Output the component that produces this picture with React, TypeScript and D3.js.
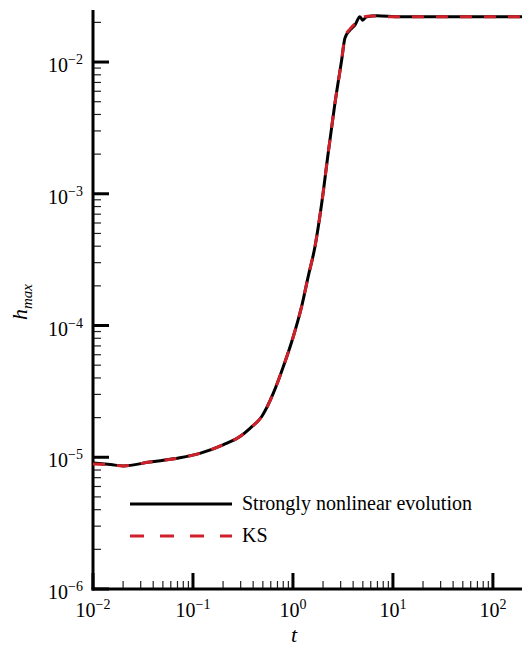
import React, { useEffect, useRef } from 'react'
import * as d3 from 'd3'

// t values and h_max for both runs
const tNonlinear = [0.01, 0.015, 0.02, 0.037, 0.074, 0.117, 0.2, 0.3, 0.372, 0.486, 0.635, 0.8, 1.007, 1.22, 1.42, 1.66, 1.94, 2.25, 2.63, 3.07, 3.31, 3.72, 4.17, 4.68, 4.97, 5.46, 6.87, 11.7, 50, 200]
const hNonlinear = [9.06e-6, 8.8e-6, 8.6e-6, 9.2e-6, 9.9e-6, 1.07e-5, 1.24e-5, 1.45e-5, 1.66e-5, 2.03e-5, 3.05e-5, 4.86e-5, 8.22e-5, 1.39e-4, 2.35e-4, 3.96e-4, 8.47e-4, 2.03e-3, 4.86e-3, 1.035e-2, 1.52e-2, 1.75e-2, 1.91e-2, 2.21e-2, 2.08e-2, 2.21e-2, 2.25e-2, 2.21e-2, 2.21e-2, 2.21e-2]

const tKS = [0.01, 0.015, 0.02, 0.037, 0.074, 0.117, 0.2, 0.3, 0.372, 0.486, 0.635, 0.8, 1.007, 1.22, 1.42, 1.66, 1.94, 2.25, 2.63, 3.07, 3.31, 3.72, 4.17, 4.6, 5.1, 5.6, 6.5, 7.5, 8.5, 11.7, 50, 200]
const hKS = [8.9e-6, 8.75e-6, 8.6e-6, 9.2e-6, 9.9e-6, 1.07e-5, 1.24e-5, 1.45e-5, 1.66e-5, 2.03e-5, 3.05e-5, 4.86e-5, 8.22e-5, 1.39e-4, 2.35e-4, 3.96e-4, 8.47e-4, 2.03e-3, 4.86e-3, 1.035e-2, 1.55e-2, 1.78e-2, 1.95e-2, 2.08e-2, 2.2e-2, 2.23e-2, 2.24e-2, 2.23e-2, 2.21e-2, 2.21e-2, 2.21e-2, 2.21e-2]

const xMajor = [-2, -1, 0, 1, 2]
const yMajor = [-6, -5, -4, -3, -2]
const legendLabels = ['Strongly nonlinear evolution', 'KS']

const FONT = "'Liberation Serif', 'Times New Roman', Times, serif"

export default function App() {
  const ref = useRef(null)

  useEffect(() => {
    const svg = d3.select(ref.current)
    svg.selectAll('*').remove()

    var left = 93, bottom = 589, top = 10, right = 523

    const x = d3.scaleLog().domain([0.01, 200]).range([left, right])
    const y = d3.scaleLog().domain([1e-6, Math.pow(10, -1.605)]).range([bottom, top])

    const line = d3.line()
      .x((d) => x(d[0]))
      .y((d) => y(d[1]))
      .curve(d3.curveMonotoneX)

    // minor ticks
    const g = svg.append('g')
    for (let e = -2; e <= 2; e++) {
      for (let k = 2; k <= 9; k++) {
        const v = k * Math.pow(10, e)
        if (v > 200) continue
        g.append('line')
          .attr('x1', x(v)).attr('x2', x(v))
          .attr('y1', bottom).attr('y2', bottom - 8)
          .attr('stroke', '#222').attr('stroke-width', 1.2)
      }
    }
    for (let e = -6; e <= -2; e++) {
      for (let k = 2; k <= 9; k++) {
        const v = k * Math.pow(10, e)
        if (v > y.domain()[1]) continue
        g.append('line')
          .attr('x1', left).attr('x2', left + 8)
          .attr('y1', y(v)).attr('y2', y(v))
          .attr('stroke', '#222').attr('stroke-width', 1.2)
      }
    }
    // major ticks + labels
    for (let e of xMajor) {
      g.append('line')
        .attr('x1', x(Math.pow(10, e))).attr('x2', x(Math.pow(10, e)))
        .attr('y1', bottom).attr('y2', bottom - 16)
        .attr('stroke', 'black').attr('stroke-width', 3)
      const t = g.append('text')
        .attr('x', x(Math.pow(10, e))).attr('y', 617)
        .attr('text-anchor', 'middle')
        .attr('font-family', FONT).attr('font-size', 20)
      t.append('tspan').text('10')
      t.append('tspan').attr('dy', -8).attr('font-size', 14).text(e < 0 ? '\u2212' + (-e) : String(e))
    }
    for (let e of yMajor) {
      g.append('line')
        .attr('x1', left).attr('x2', left + 16)
        .attr('y1', y(Math.pow(10, e))).attr('y2', y(Math.pow(10, e)))
        .attr('stroke', 'black').attr('stroke-width', 3)
      const t = g.append('text')
        .attr('x', 83).attr('y', y(Math.pow(10, e)) + 10)
        .attr('text-anchor', 'end')
        .attr('font-family', FONT).attr('font-size', 20)
      t.append('tspan').text('10')
      t.append('tspan').attr('dy', -8).attr('font-size', 14).text('\u2212' + (-e))
    }

    // axis lines
    svg.append('line')
      .attr('x1', left).attr('x2', left).attr('y1', top).attr('y2', bottom + 1.5)
      .attr('stroke', 'black').attr('stroke-width', 3)
    svg.append('line')
      .attr('x1', left - 1.5).attr('x2', right).attr('y1', bottom).attr('y2', bottom)
      .attr('stroke', 'black').attr('stroke-width', 3)

    // curves
    const lines = svg.append('g')
    lines.append('path')
      .attr('d', line(d3.zip(tNonlinear, hNonlinear)))
      .attr('fill', 'none').attr('stroke', 'black').attr('stroke-width', 3)
    lines.append('path')
      .attr('d', line(d3.zip(tKS, hKS)))
      .attr('fill', 'none').attr('stroke', '#d0202a').attr('stroke-width', 3)
      .attr('stroke-dasharray', '12,12')

    // legend
    const leg = svg.append('g')
    leg.append('line').attr('x1', 130).attr('x2', 232).attr('y1', 504).attr('y2', 504)
      .attr('stroke', 'black').attr('stroke-width', 3)
    leg.append('line').attr('x1', 130).attr('x2', 232).attr('y1', 536).attr('y2', 536)
      .attr('stroke', '#d0202a').attr('stroke-width', 3).attr('stroke-dasharray', '14,16')
    leg.append('text').attr('x', 242).attr('y', 510)
      .attr('font-family', FONT).attr('font-size', 20).text(legendLabels[0])
    leg.append('text').attr('x', 242).attr('y', 542)
      .attr('font-family', FONT).attr('font-size', 20).text(legendLabels[1])

    // axis titles
    svg.append('text').attr('x', 294).attr('y', 642)
      .attr('text-anchor', 'middle').attr('font-family', FONT)
      .attr('font-style', 'italic').attr('font-size', 22).text('t')
    const yt = svg.append('text')
      .attr('transform', 'translate(27,302) rotate(-90)')
      .attr('text-anchor', 'middle').attr('font-family', FONT)
      .attr('font-style', 'italic').attr('font-size', 22)
    yt.append('tspan').text('h')
    yt.append('tspan').attr('dy', 5).attr('font-size', 15).text('max')
  }, [])

  return (
    <svg ref={ref} width={522} height={649}
      style={{ position: 'absolute', left: 0, top: 0, background: 'white' }} />
  )
}
